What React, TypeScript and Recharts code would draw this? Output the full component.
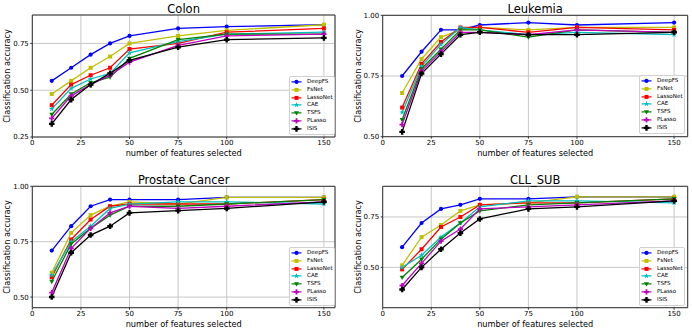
import React from "react";
import { LineChart, Line, XAxis, YAxis, CartesianGrid, Legend, Label, ReferenceLine } from "recharts";

const FONT = "'DejaVu Sans', sans-serif";

// number of selected features (x) and the methods compared
const features = [10, 20, 30, 40, 50, 75, 100, 150];
const xTicks = [0, 25, 50, 75, 100, 150];
const methods = ["DeepFS", "FsNet", "LassoNet", "CAE", "TSFS", "PLasso", "ISIS"];

// classification accuracy
const colon = {
  DeepFS: [0.55, 0.62, 0.69, 0.75, 0.79, 0.83, 0.84, 0.85],
  FsNet: [0.48, 0.55, 0.62, 0.68, 0.75, 0.79, 0.82, 0.85],
  LassoNet: [0.42, 0.53, 0.58, 0.62, 0.72, 0.75, 0.81, 0.83],
  CAE: [0.4, 0.51, 0.56, 0.59, 0.7, 0.76, 0.8, 0.81],
  TSFS: [0.37, 0.48, 0.54, 0.57, 0.67, 0.77, 0.8, 0.8],
  PLasso: [0.35, 0.47, 0.53, 0.58, 0.65, 0.74, 0.79, 0.8],
  ISIS: [0.32, 0.45, 0.53, 0.59, 0.66, 0.73, 0.77, 0.78],
};
const leukemia = {
  DeepFS: [0.75, 0.85, 0.94, 0.94, 0.96, 0.97, 0.96, 0.97],
  FsNet: [0.68, 0.82, 0.91, 0.94, 0.95, 0.94, 0.95, 0.95],
  LassoNet: [0.62, 0.8, 0.89, 0.95, 0.95, 0.93, 0.95, 0.94],
  CAE: [0.6, 0.79, 0.88, 0.95, 0.94, 0.92, 0.93, 0.92],
  TSFS: [0.57, 0.78, 0.86, 0.94, 0.94, 0.91, 0.94, 0.93],
  PLasso: [0.55, 0.77, 0.85, 0.93, 0.93, 0.92, 0.94, 0.93],
  ISIS: [0.52, 0.76, 0.84, 0.92, 0.93, 0.92, 0.92, 0.93],
};
const prostate = {
  DeepFS: [0.71, 0.82, 0.91, 0.94, 0.94, 0.94, 0.95, 0.95],
  FsNet: [0.61, 0.79, 0.87, 0.91, 0.93, 0.92, 0.95, 0.95],
  LassoNet: [0.59, 0.76, 0.85, 0.91, 0.92, 0.92, 0.92, 0.94],
  CAE: [0.6, 0.75, 0.82, 0.9, 0.92, 0.93, 0.93, 0.92],
  TSFS: [0.57, 0.74, 0.81, 0.87, 0.91, 0.91, 0.92, 0.94],
  PLasso: [0.52, 0.72, 0.81, 0.88, 0.91, 0.9, 0.91, 0.93],
  ISIS: [0.5, 0.7, 0.78, 0.82, 0.88, 0.89, 0.9, 0.93],
};
const cllSub = {
  DeepFS: [0.6, 0.72, 0.79, 0.81, 0.84, 0.84, 0.85, 0.85],
  FsNet: [0.51, 0.65, 0.71, 0.78, 0.81, 0.82, 0.85, 0.85],
  LassoNet: [0.49, 0.59, 0.7, 0.75, 0.81, 0.82, 0.82, 0.84],
  CAE: [0.5, 0.56, 0.65, 0.72, 0.8, 0.83, 0.83, 0.82],
  TSFS: [0.45, 0.54, 0.64, 0.72, 0.78, 0.81, 0.82, 0.84],
  PLasso: [0.41, 0.52, 0.63, 0.69, 0.79, 0.8, 0.81, 0.83],
  ISIS: [0.39, 0.5, 0.59, 0.67, 0.74, 0.79, 0.8, 0.83],
};

const colors: Record<string, string> = {
  DeepFS: "#0000ff",
  FsNet: "#bfbf00",
  LassoNet: "#ff0000",
  CAE: "#00bfbf",
  TSFS: "#008000",
  PLasso: "#bf00bf",
  ISIS: "#000000",
};
const shapes: Record<string, string> = {
  DeepFS: "circle",
  FsNet: "square",
  LassoNet: "square",
  CAE: "star",
  TSFS: "tri",
  PLasso: "plus",
  ISIS: "plusBig",
};

function Marker({ cx, cy, name }: { cx: number; cy: number; name: string }) {
  const c = colors[name];
  const s = shapes[name];
  if (cx == null || cy == null) return null;
  if (s === "circle") return <circle cx={cx} cy={cy} r={2.1} fill={c} />;
  if (s === "square") return <rect x={cx - 2} y={cy - 2} width={4} height={4} fill={c} />;
  if (s === "tri")
    return <polygon points={`${cx - 2.5},${cy - 1.7} ${cx + 2.5},${cy - 1.7} ${cx},${cy + 2.6}`} fill={c} />;
  if (s === "star") {
    const pts: string[] = [];
    for (let i = 0; i < 10; i++) {
      const r = i % 2 === 0 ? 2.9 : 1.2;
      const a = (Math.PI / 5) * i - Math.PI / 2;
      pts.push(`${cx + r * Math.cos(a)},${cy + r * Math.sin(a)}`);
    }
    return <polygon points={pts.join(" ")} fill={c} />;
  }
  // filled plus, a bit bigger for ISIS
  const r = s === "plusBig" ? 2.8 : 2.6;
  const w = s === "plusBig" ? 1.2 : 0.9;
  const d = `M${cx - w},${cy - r}H${cx + w}V${cy - w}H${cx + r}V${cy + w}H${cx + w}V${cy + r}H${cx - w}V${cy + w}H${cx - r}V${cy - w}H${cx - w}Z`;
  return <path d={d} fill={c} />;
}

const LegendBox = () => (
  <div
    style={{
      width: 44,
      background: "rgba(255,255,255,0.85)",
      border: "1px solid #d0d0d0",
      borderRadius: 2,
      padding: "1px 0",
      fontFamily: FONT,
      fontSize: 5.6,
      color: "#000",
    }}
  >
    {methods.map((m) => (
      <div key={m} style={{ display: "flex", alignItems: "center", height: 7.8 }}>
        <svg width={17} height={7.8} style={{ flex: "none" }}>
          <line x1={1.5} x2={11.5} y1={3.9} y2={3.9} stroke={colors[m]} strokeWidth={1.2} />
          <Marker cx={6.5} cy={3.9} name={m} />
        </svg>
        <span style={{ whiteSpace: "nowrap", lineHeight: "7.8px" }}>{m}</span>
      </div>
    ))}
  </div>
);

type PanelCfg = {
  title: string;
  scores: Record<string, number[]>;
  yDomain: [number, number];
  yTicks: number[];
  xMax: number;
  left: number;
  top: number;
  width: number;
  height: number;
  plot: { l: number; t: number; r: number; b: number };
  legend: { x: number; y: number };
  yLabelX: number;
};

const panels: PanelCfg[] = [
  {
    title: "Colon",
    scores: colon,
    yDomain: [0.25, 0.902],
    yTicks: [0.25, 0.5, 0.75],
    xMax: 155.7,
    left: 0,
    top: 0,
    width: 346,
    height: 166,
    plot: { l: 32.3, t: 15, r: 335, b: 137 },
    legend: { x: 289, y: 76 },
    yLabelX: 6.7,
  },
  {
    title: "Leukemia",
    scores: leukemia,
    yDomain: [0.5, 1.0],
    yTicks: [0.5, 0.75, 1.0],
    xMax: 157,
    left: 346,
    top: 0,
    width: 346,
    height: 166,
    plot: { l: 36.7, t: 15.3, r: 341.7, b: 136.7 },
    legend: { x: 293, y: 75 },
    yLabelX: 11.7,
  },
  {
    title: "Prostate Cancer",
    scores: prostate,
    yDomain: [0.452, 1.0],
    yTicks: [0.5, 0.75, 1.0],
    xMax: 155.7,
    left: 0,
    top: 166,
    width: 346,
    height: 167,
    plot: { l: 32.3, t: 20.3, r: 335, b: 141.7 },
    legend: { x: 289, y: 81 },
    yLabelX: 6.7,
  },
  {
    title: "CLL_SUB",
    scores: cllSub,
    yDomain: [0.3, 0.902],
    yTicks: [0.5, 0.75],
    xMax: 157,
    left: 346,
    top: 166,
    width: 346,
    height: 167,
    plot: { l: 36.7, t: 20.3, r: 341.7, b: 141.7 },
    legend: { x: 293, y: 81 },
    yLabelX: 11.7,
  },
];

const tickStyle = { fill: "#000", fontSize: 7, fontFamily: FONT };

function Panel({ cfg }: { cfg: PanelCfg }) {
  const rows = features.map((f, i) => {
    const row: Record<string, number> = { k: f };
    methods.forEach((m) => (row[m] = cfg.scores[m][i]));
    return row;
  });
  const { l, t, r, b } = cfg.plot;
  const xAxisH = cfg.height - b;

  return (
    <div style={{ position: "absolute", left: cfg.left, top: cfg.top }}>
      <LineChart
        width={cfg.width}
        height={cfg.height}
        data={rows}
        margin={{ top: t, right: cfg.width - r, bottom: 0, left: 0 }}
      >
        <CartesianGrid xAxisId="b" yAxisId="l" stroke="#c2c2c2" strokeWidth={0.9} />
        <XAxis
          xAxisId="b"
          dataKey="k"
          type="number"
          domain={[0, cfg.xMax]}
          ticks={xTicks}
          interval={0}
          allowDataOverflow
          height={xAxisH}
          stroke="#333"
          tickSize={2}
          tickMargin={1.5}
          tick={tickStyle}
        >
          <Label
            value="number of features selected"
            position="insideBottom"
            offset={xAxisH - 19}
            style={{ fontSize: 8.2, fontFamily: FONT, fill: "#000" }}
          />
        </XAxis>
        <YAxis
          yAxisId="l"
          type="number"
          domain={cfg.yDomain}
          ticks={cfg.yTicks}
          interval={0}
          allowDataOverflow
          width={l}
          stroke="#333"
          tickSize={2}
          tickMargin={1.5}
          tick={tickStyle}
          tickFormatter={(v: number) => v.toFixed(2)}
        >
          <Label
            value="Classification accuracy"
            angle={-90}
            position="insideLeft"
            offset={cfg.yLabelX}
            style={{ fontSize: 8.2, fontFamily: FONT, fill: "#000", textAnchor: "middle" }}
          />
        </YAxis>
        {/* top and right edges of the frame, title sits on the top edge */}
        <ReferenceLine xAxisId="b" yAxisId="l" x={cfg.xMax} stroke="#333" strokeWidth={1} />
        <ReferenceLine xAxisId="b" yAxisId="l" y={cfg.yDomain[1]} stroke="#333" strokeWidth={1}>
          <Label
            value={cfg.title}
            position="top"
            offset={2.5}
            style={{ fontSize: 11.5, fontFamily: FONT, fill: "#000" }}
          />
        </ReferenceLine>
        {methods.map((m) => (
          <Line
            key={m}
            xAxisId="b"
            yAxisId="l"
            dataKey={m}
            stroke={colors[m]}
            strokeWidth={1.3}
            isAnimationActive={false}
            activeDot={false}
            dot={(p: any) => <Marker key={`${m}-${p.index}`} cx={p.cx} cy={p.cy} name={m} />}
          />
        ))}
        <Legend
          layout="vertical"
          align="center"
          verticalAlign="middle"
          wrapperStyle={{ left: cfg.legend.x, top: cfg.legend.y, width: "auto", height: "auto" }}
          content={() => <LegendBox />}
        />
      </LineChart>
    </div>
  );
}

export default function App() {
  return (
    <div style={{ position: "absolute", left: 0, top: 0, width: 692, height: 333, background: "#fff" }}>
      {panels.map((p) => (
        <Panel key={p.title} cfg={p} />
      ))}
    </div>
  );
}
